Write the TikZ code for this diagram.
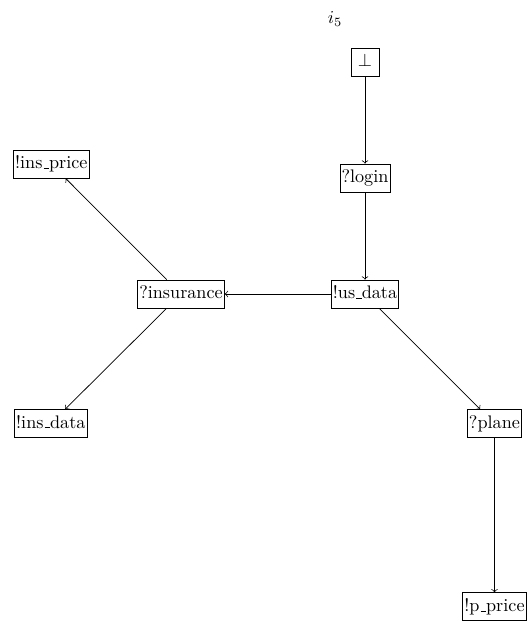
\documentclass[tikz,border=0pt]{standalone}
\newcommand\usc{\leavevmode\kern.06em\vbox{\hrule width.3em}}
\begin{document}
\begin{tikzpicture}[x=0.55pt,y=-0.55pt,
  st/.style={draw, inner xsep=0.9pt, inner ysep=0pt, text height=7pt, text depth=2pt,
             minimum height=15.4pt, minimum width=15.4pt},
  arr/.style={->}]
\useasboundingbox (0,0) rectangle (527,625);
\node (lab) at (335,19) {$i_5$};
\node[st] (bot) at (365,62) {$\bot$};
\node[st] (login) at (365,178) {?login};
\node[st] (usdata) at (365,294) {!us\usc data};
\node[st] (ins) at (181,294) {?insurance};
\node[st] (insprice) at (51.3,164) {!ins\usc price};
\node[st] (insdata) at (50.8,423.5) {!ins\usc data};
\node[st] (plane) at (494.5,423.7) {?plane};
\node[st] (pprice) at (494.5,606.7) {!p\usc price};
\draw[arr] (bot) -- (login);
\draw[arr] (login) -- (usdata);
\draw[arr] (usdata) -- (ins);
\draw[arr] (ins) -- (insprice);
\draw[arr] (ins) -- (insdata);
\draw[arr] (usdata) -- (plane);
\draw[arr] (plane) -- (pprice);
\end{tikzpicture}
\end{document}
